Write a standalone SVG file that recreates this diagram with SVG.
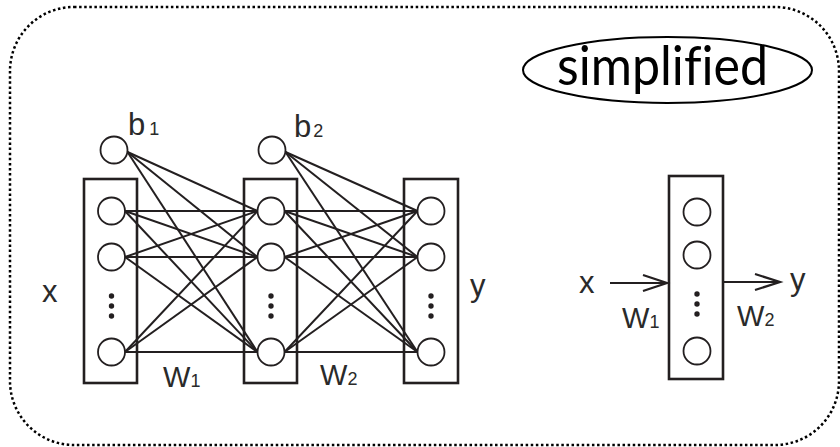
<svg xmlns="http://www.w3.org/2000/svg" width="840" height="447" viewBox="0 0 840 447">
<style>
.box{fill:none;stroke:#231f20;stroke-width:2.6}
.nd{fill:#fff;stroke:#231f20;stroke-width:1.8}
.ln{stroke:#231f20;stroke-width:2;fill:none}
.dot{fill:#231f20}
.lbl{font-family:"Liberation Sans",Arial,sans-serif;font-size:29px;fill:#2a2a2a}
.big{font-size:31px}
.sub{font-size:18px}
.arr{stroke:#231f20;stroke-width:2.2;fill:none}
</style>
<rect x="10" y="7" width="829" height="438" rx="64" ry="64" fill="none" stroke="#000" stroke-width="2.5" stroke-dasharray="2.5 2.6"/>
<g id="simplified-label">
<ellipse cx="667.5" cy="70" rx="144.5" ry="33" fill="none" stroke="#000" stroke-width="2"/>
<text x="557" y="85" font-family="Lato,'Open Sans',sans-serif" font-size="55" style="font-variant-ligatures:none" textLength="211" lengthAdjust="spacingAndGlyphs" fill="#000">simplified</text>
</g>
<g id="connectors">
<line class="ln" x1="125" y1="211" x2="257.5" y2="211"/>
<line class="ln" x1="125" y1="211" x2="257.5" y2="257"/>
<line class="ln" x1="125" y1="211" x2="257.5" y2="352"/>
<line class="ln" x1="125" y1="257" x2="257.5" y2="211"/>
<line class="ln" x1="125" y1="257" x2="257.5" y2="257"/>
<line class="ln" x1="125" y1="257" x2="257.5" y2="352"/>
<line class="ln" x1="125" y1="352" x2="257.5" y2="211"/>
<line class="ln" x1="125" y1="352" x2="257.5" y2="257"/>
<line class="ln" x1="125" y1="352" x2="257.5" y2="352"/>
<line class="ln" x1="127.5" y1="152" x2="257.5" y2="211"/>
<line class="ln" x1="127.5" y1="152" x2="257.5" y2="257"/>
<line class="ln" x1="127.5" y1="152" x2="257.5" y2="352"/>
<line class="ln" x1="284.5" y1="211" x2="417.5" y2="211"/>
<line class="ln" x1="284.5" y1="211" x2="417.5" y2="257"/>
<line class="ln" x1="284.5" y1="211" x2="417.5" y2="352"/>
<line class="ln" x1="284.5" y1="257" x2="417.5" y2="211"/>
<line class="ln" x1="284.5" y1="257" x2="417.5" y2="257"/>
<line class="ln" x1="284.5" y1="257" x2="417.5" y2="352"/>
<line class="ln" x1="284.5" y1="352" x2="417.5" y2="211"/>
<line class="ln" x1="284.5" y1="352" x2="417.5" y2="257"/>
<line class="ln" x1="284.5" y1="352" x2="417.5" y2="352"/>
<line class="ln" x1="285.5" y1="152" x2="417.5" y2="211"/>
<line class="ln" x1="285.5" y1="152" x2="417.5" y2="257"/>
<line class="ln" x1="285.5" y1="152" x2="417.5" y2="352"/>
<line class="arr" x1="610" y1="283" x2="667" y2="283"/>
<polyline class="arr" points="643,275 667,283 643,291"/>
<line class="arr" x1="723" y1="282" x2="780" y2="282"/>
<polyline class="arr" points="755,274 780,282 755,290"/>
</g>
<g id="bias1"><circle class="nd" cx="114" cy="150" r="13.5"/><text class="lbl big" x="128" y="135">b<tspan class="sub" dx="4">1</tspan></text></g>
<g id="bias2"><circle class="nd" cx="272" cy="150" r="13.5"/><text class="lbl big" x="294" y="137">b<tspan class="sub" dx="2">2</tspan></text></g>
<g id="layer-x">
<rect class="box" x="84" y="179" width="53" height="204"/>
<circle class="nd" cx="111.5" cy="211" r="13.5"/>
<circle class="nd" cx="111.5" cy="257" r="13.5"/>
<circle class="nd" cx="111.5" cy="352" r="13.5"/>
<circle class="dot" cx="111.5" cy="296" r="2.7"/><circle class="dot" cx="111.5" cy="306" r="2.7"/><circle class="dot" cx="111.5" cy="316" r="2.7"/>
</g>
<g id="layer-h">
<rect class="box" x="244" y="179" width="53" height="204"/>
<circle class="nd" cx="271" cy="211" r="13.5"/>
<circle class="nd" cx="271" cy="257" r="13.5"/>
<circle class="nd" cx="271" cy="352" r="13.5"/>
<circle class="dot" cx="271" cy="296" r="2.7"/><circle class="dot" cx="271" cy="306" r="2.7"/><circle class="dot" cx="271" cy="316" r="2.7"/>
</g>
<g id="layer-y">
<rect class="box" x="404" y="179" width="54" height="204"/>
<circle class="nd" cx="431" cy="211" r="13.5"/>
<circle class="nd" cx="431" cy="257" r="13.5"/>
<circle class="nd" cx="431" cy="352" r="13.5"/>
<circle class="dot" cx="431" cy="296" r="2.7"/><circle class="dot" cx="431" cy="306" r="2.7"/><circle class="dot" cx="431" cy="316" r="2.7"/>
</g>
<g id="layer-simplified">
<rect class="box" x="669" y="176" width="54" height="203"/>
<circle class="nd" cx="697" cy="212" r="13.5"/>
<circle class="nd" cx="697" cy="255" r="13.5"/>
<circle class="nd" cx="697" cy="351" r="13.5"/>
<circle class="dot" cx="697" cy="294" r="2.7"/><circle class="dot" cx="697" cy="304" r="2.7"/><circle class="dot" cx="697" cy="314" r="2.7"/>
</g>
<g id="labels">
<text class="lbl big" x="42" y="302">x</text>
<text class="lbl big" x="470" y="296">y</text>
<text class="lbl" x="163" y="387">W<tspan class="sub">1</tspan></text>
<text class="lbl" x="320" y="385">W<tspan class="sub">2</tspan></text>
<text class="lbl big" x="579" y="293">x</text>
<text class="lbl big" x="790" y="290">y</text>
<text class="lbl" x="622" y="328">W<tspan class="sub">1</tspan></text>
<text class="lbl" x="737" y="326">W<tspan class="sub">2</tspan></text>
</g>
</svg>
